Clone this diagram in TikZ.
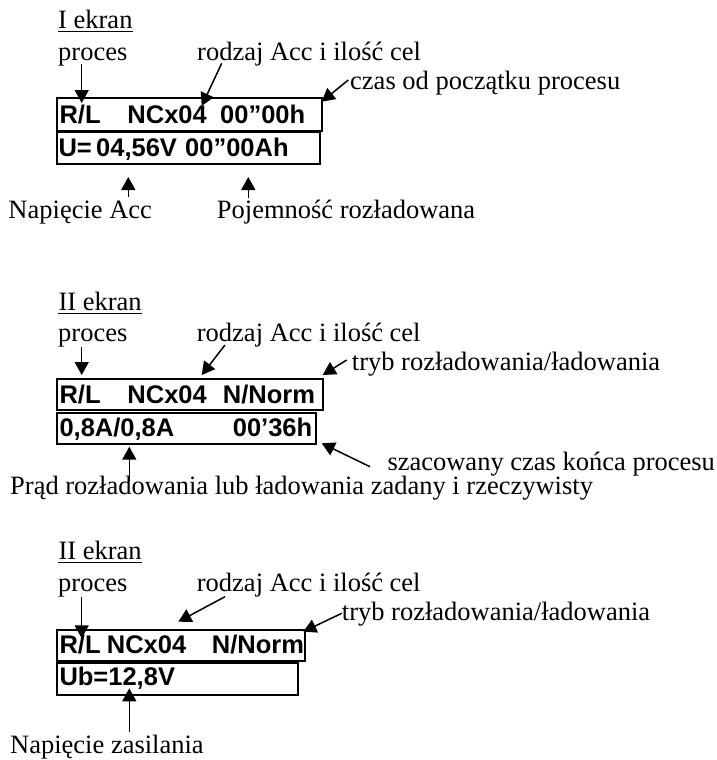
\documentclass[tikz,border=0pt]{standalone}
\usepackage{fontspec}
\setmainfont{Liberation Serif}
\newfontfamily\lcdfont{Liberation Sans Bold}
\usetikzlibrary{arrows.meta}
\tikzset{
  lbl/.style={anchor=base west, inner sep=0pt, font=\fontsize{26.5pt}{30pt}\selectfont},
  lcd/.style={anchor=base west, inner sep=0pt, font=\lcdfont\fontsize{25.5pt}{30pt}\selectfont},
  rowbox/.style={draw, line width=2pt},
  pointer/.style={line width=1.5pt, -{Triangle[length=13pt,width=14pt]}},
  uline/.style={line width=1.2pt}
}
\begin{document}
\begin{tikzpicture}[x=1pt,y=-1pt]
\useasboundingbox (0,0) rectangle (717,760);
% ---------- screen 1
\node[lbl] (h1) at (58,28.3) {I ekran};
\draw[uline] ([yshift=-3.4pt]h1.base west) -- ([yshift=-3.4pt]h1.base east);
\node[lbl] (p1) at (58,60) {proces};
\node[lbl] (r1) at (197,60) {rodzaj Acc i ilość cel};
\node[lbl] (c1) at (350,89) {czas od początku procesu};
\draw[rowbox] (57.3,97.7) rectangle (321.7,130.5);
\draw[rowbox] (57.3,132) rectangle (320,164);
\coordinate (b1a) at (321.7,101.7);
\node[lcd] (t1a) at (59.3,123.3) {\makebox[68pt][l]{R/L}\makebox[92.7pt][l]{NCx04}00”00h};
\node[lcd] (t1b) at (58.3,156.7) {\makebox[37.7pt][l]{U= }\makebox[89pt][l]{04,56V}00”00Ah};
\node[lbl] (n1) at (8.3,218.3) {Napięcie Acc};
\node[lbl] (q1) at (216.7,218.3) {Pojemność rozładowana};
\coordinate (p1t) at (81.7,64); \coordinate (p1h) at (81.7,103);
\coordinate (r1t) at (221.7,63.3); \coordinate (r1h) at (201.7,106);
\coordinate (c1t) at (348.3,80);
\coordinate (n1t) at (128.3,197); \coordinate (n1h) at (128.3,177);
\coordinate (q1t) at (248.3,198); \coordinate (q1h) at (248.3,177);
\draw[pointer] (p1t) -- (p1h);
\draw[pointer] (r1t) -- (r1h);
\draw[pointer] (c1t) -- (b1a);
\draw[pointer] (n1t) -- (n1h);
\draw[pointer] (q1t) -- (q1h);
% ---------- screen 2
\node[lbl] (h2) at (58.3,310) {II ekran};
\draw[uline] ([yshift=-3.4pt]h2.base west) -- ([yshift=-3.4pt]h2.base east);
\node[lbl] (p2) at (58,341.7) {proces};
\node[lbl] (r2) at (196.7,341.7) {rodzaj Acc i ilość cel};
\node[lbl] (y2) at (351.7,370) {tryb rozładowania/ładowania};
\draw[rowbox] (57.3,379) rectangle (322.7,410);
\draw[rowbox] (57.3,412.7) rectangle (316,444);
\node[lcd] (t2a) at (59.3,403.3) {\makebox[68pt][l]{R/L}\makebox[95.4pt][l]{NCx04}N/Norm};
\node[lcd] (t2b) at (59.3,436.7) {\makebox[173.4pt][l]{0,8A/0,8A}00’36h};
\node[lbl] (s2) at (387.3,470) {szacowany czas końca procesu};
\node[lbl] (i2) at (10,494.3) {Prąd rozładowania lub ładowania zadany i rzeczywisty};
\coordinate (p2t) at (81.7,346.7); \coordinate (p2h) at (81.7,375);
\coordinate (r2t) at (225,345); \coordinate (r2h) at (201.7,375);
\coordinate (y2t) at (346.7,360); \coordinate (y2h) at (322.7,375);
\coordinate (s2t) at (370,466.7); \coordinate (s2h) at (321.7,443.3);
\coordinate (i2t) at (129.3,481); \coordinate (i2h) at (129.3,446.7);
\draw[pointer] (p2t) -- (p2h);
\draw[pointer] (r2t) -- (r2h);
\draw[pointer] (y2t) -- (y2h);
\draw[pointer] (s2t) -- (s2h);
\draw[pointer] (i2t) -- (i2h);
% ---------- screen 3
\node[lbl] (h3) at (58.3,559) {II ekran};
\draw[uline] ([yshift=-3.4pt]h3.base west) -- ([yshift=-3.4pt]h3.base east);
\node[lbl] (p3) at (58,591.7) {proces};
\node[lbl] (r3) at (196.7,591.7) {rodzaj Acc i ilość cel};
\node[lbl] (y3) at (341.7,620) {tryb rozładowania/ładowania};
\draw[rowbox] (57.3,630) rectangle (305,661);
\draw[rowbox] (57.3,663.3) rectangle (298.3,695);
\node[lcd] (t3a) at (59.3,653.3) {\makebox[47.4pt][l]{R/L}\makebox[105pt][l]{NCx04}N/Norm};
\node[lcd] (t3b) at (59.3,685) {Ub=12,8V};
\node[lbl] (z3) at (10,753.3) {Napięcie zasilania};
\coordinate (p3t) at (81.7,596.7); \coordinate (p3h) at (81.7,638.3);
\coordinate (r3t) at (225,596.7); \coordinate (r3h) at (178.3,621.7);
\coordinate (y3t) at (341.7,613.3); \coordinate (y3h) at (303.3,631.7);
\coordinate (z3t) at (129.3,731.7); \coordinate (z3h) at (129.3,688.3);
\draw[pointer] (p3t) -- (p3h);
\draw[pointer] (r3t) -- (r3h);
\draw[pointer] (y3t) -- (y3h);
\draw[pointer] (z3t) -- (z3h);
\end{tikzpicture}
\end{document}
